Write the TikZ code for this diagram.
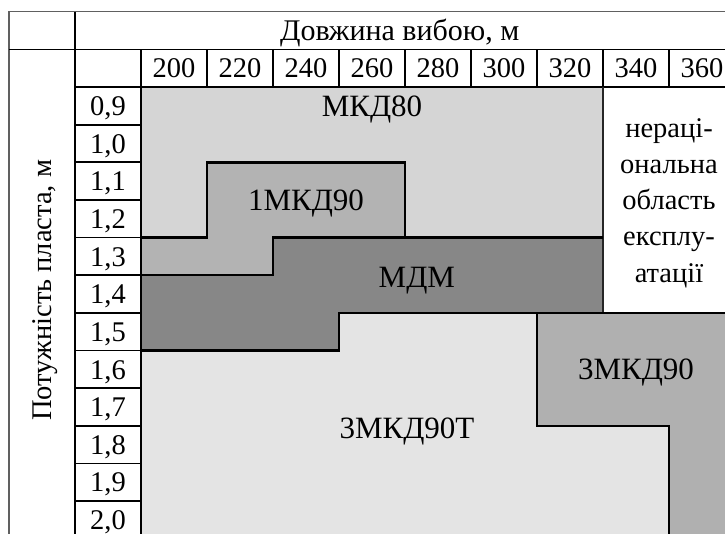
\documentclass[tikz,border=0pt]{standalone}
\usepackage{fontspec}
\setmainfont{Liberation Serif}
\definecolor{cMKD}{HTML}{D5D5D5}
\definecolor{cOne}{HTML}{B3B3B3}
\definecolor{cMDM}{HTML}{878787}
\definecolor{cT}{HTML}{E4E4E4}
\definecolor{cThree}{HTML}{B0B0B0}
\definecolor{cFrame}{HTML}{606060}
\tikzset{
  gridline/.style={line width=1.7pt, black},
  frameline/.style={line width=1.4pt, cFrame},
  bound/.style={line width=2.4pt, black, line join=miter},
  thinbound/.style={line width=1.4pt, black!85},
  lbl/.style={font=\fontsize{28.5}{36.3}\selectfont, inner sep=0pt, text height=19.3pt, text depth=0pt},
  reglbl/.style={font=\fontsize{31}{36}\selectfont, inner sep=0pt, text height=21pt, text depth=0pt},
}
\begin{document}
\begin{tikzpicture}[x=66pt,y=-37.65pt]
\useasboundingbox (-2.13636,-2.31076) rectangle (8.84848,11.84595);
\clip (-2.13636,-2.31076) rectangle (8.84848,11.84595);
\fill[white] (-2.13636,-2.31076) rectangle (8.84848,11.84595);
% regions
\fill[cMKD] (0,0) rectangle (7,4);
\fill[cOne] (1,2) -- (4,2) -- (4,4) -- (2,4) -- (2,5) -- (0,5) -- (0,4) -- (1,4) -- cycle;
\fill[cMDM] (2,4) -- (7,4) -- (7,6) -- (3,6) -- (3,7) -- (0,7) -- (0,5) -- (2,5) -- cycle;
\fill[cT] (0,7) -- (3,7) -- (3,6) -- (6,6) -- (6,9) -- (8,9) -- (8,12) -- (0,12) -- cycle;
\fill[cThree] (6,6) -- (9,6) -- (9,12) -- (8,12) -- (8,9) -- (6,9) -- cycle;
% outer frame
\draw[frameline] (-2,12) -- (-2,-2) -- (9,-2);
% table grid
\draw[gridline] (-2,-1) -- (9,-1);
\draw[gridline] (-1,-2) -- (-1,12);
\draw[gridline] (-1,0) -- (9,0);
\draw[gridline] (0,-1) -- (0,12);
\foreach \i in {1,...,8} \draw[gridline] (\i,-1) -- (\i,0);
\foreach \j in {1,...,11} \draw[gridline] (-1,\j) -- (0,\j);
% region boundaries
\draw[thinbound] (7,0) -- (7,6);
\draw[bound] (0,4) -- (1,4) -- (1,2) -- (4,2) -- (4,4);
\draw[bound] (0,5) -- (2,5) -- (2,4) -- (7,4);
\draw[bound] (0,7) -- (3,7) -- (3,6) -- (9,6);
\draw[bound] (6,6) -- (6,9) -- (8,9) -- (8,12);
% header texts
\node[lbl, font=\fontsize{30}{36}\selectfont] (head) at (3.92,-1.5) {Довжина вибою, м};
\node[lbl, rotate=90] (side) at (-1.5,5.4) {Потужність пласта, м};
\foreach \v [count=\i from 0] in {200,220,240,260,280,300,320,340,360}
  \node[lbl] (len\i) at (\i+0.5,-0.5) {\v};
\foreach \a/\b [count=\j from 0] in {0/9,1/0,1/1,1/2,1/3,1/4,1/5,1/6,1/7,1/8,1/9,2/0}
  \node[lbl] (th\j) at (-0.5,\j+0.5) {\a,\b};
% region labels
\node[reglbl] (mkd80) at (3.5,0.5) {МКД80};
\node[reglbl] (onemkd) at (2.5,3.0) {1МКД90};
\node[reglbl] (mdm) at (4.18,5.05) {МДМ};
\node[reglbl] (threemkd) at (7.5,7.5) {3МКД90};
\node[reglbl] (threemkdt) at (4.03,9.05) {3МКД90Т};
\node[font=\fontsize{28.5}{36.3}\selectfont, inner sep=0pt, align=center] (irr) at (8.0,3.08) {нераці-\\ональна\\область\\експлу-\\атації};
\end{tikzpicture}
\end{document}
